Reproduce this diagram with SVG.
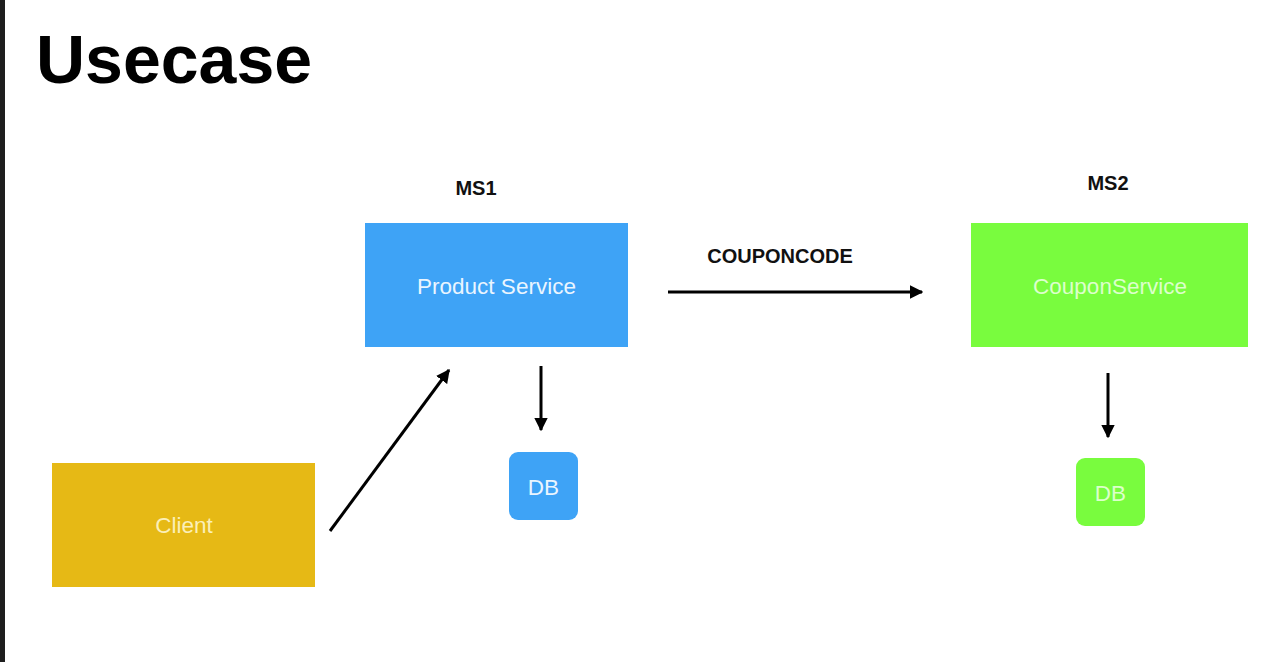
<svg xmlns="http://www.w3.org/2000/svg" width="1287" height="662" viewBox="0 0 1287 662">
<style>
text{font-family:"Liberation Sans",Arial,Helvetica,sans-serif}
.title{font-size:68px;font-weight:bold;fill:#000}
.lbl{font-size:20px;font-weight:bold;fill:#111;text-anchor:middle}
.nt{font-size:22.5px;text-anchor:middle}
.blue{fill:#3ea3f6}
.green{fill:#79fc3e}
.yellow{fill:#e6b915}
.conn{stroke:#000;stroke-width:3;fill:none;marker-end:url(#ah)}
</style>
<defs>
<marker id="ah" viewBox="0 0 10 10" refX="9" refY="5" markerWidth="4.6" markerHeight="4.6" orient="auto" markerUnits="strokeWidth">
<path d="M0,0 L10,5 L0,10 z" fill="#000"/>
</marker>
</defs>
<rect x="0" y="0" width="1287" height="662" fill="#fff"/>
<rect x="0" y="0" width="5" height="662" fill="#1e1e1e"/>
<text class="title" x="36" y="83">Usecase</text>
<g id="ms1-label"><text class="lbl" x="476" y="195">MS1</text></g>
<g id="ms2-label"><text class="lbl" x="1108" y="190">MS2</text></g>
<g id="product-service">
<rect class="blue" x="365" y="223" width="263" height="124"/>
<text class="nt" x="496.5" y="294" fill="#eaf5ff">Product Service</text>
</g>
<g id="coupon-service">
<rect class="green" x="971" y="223" width="277" height="124"/>
<text class="nt" x="1110" y="294" fill="#dcffcb">CouponService</text>
</g>
<g id="client">
<rect class="yellow" x="52" y="463" width="263" height="124"/>
<text class="nt" x="184" y="533" fill="#fbefb8">Client</text>
</g>
<g id="db1">
<rect class="blue" x="509" y="452" width="69" height="68" rx="9"/>
<text class="nt" x="543.5" y="495" fill="#eaf5ff">DB</text>
</g>
<g id="db2">
<rect class="green" x="1076" y="458" width="69" height="68" rx="9"/>
<text class="nt" x="1110.5" y="501" fill="#dcffcb">DB</text>
</g>
<g id="connectors">
<line class="conn" x1="668" y1="292" x2="922" y2="292"/>
<line class="conn" x1="541" y1="366" x2="541" y2="430"/>
<line class="conn" x1="1108" y1="373" x2="1108" y2="437"/>
<line class="conn" x1="330" y1="531" x2="449" y2="370"/>
<text class="lbl" x="780" y="263">COUPONCODE</text>
</g>
</svg>
